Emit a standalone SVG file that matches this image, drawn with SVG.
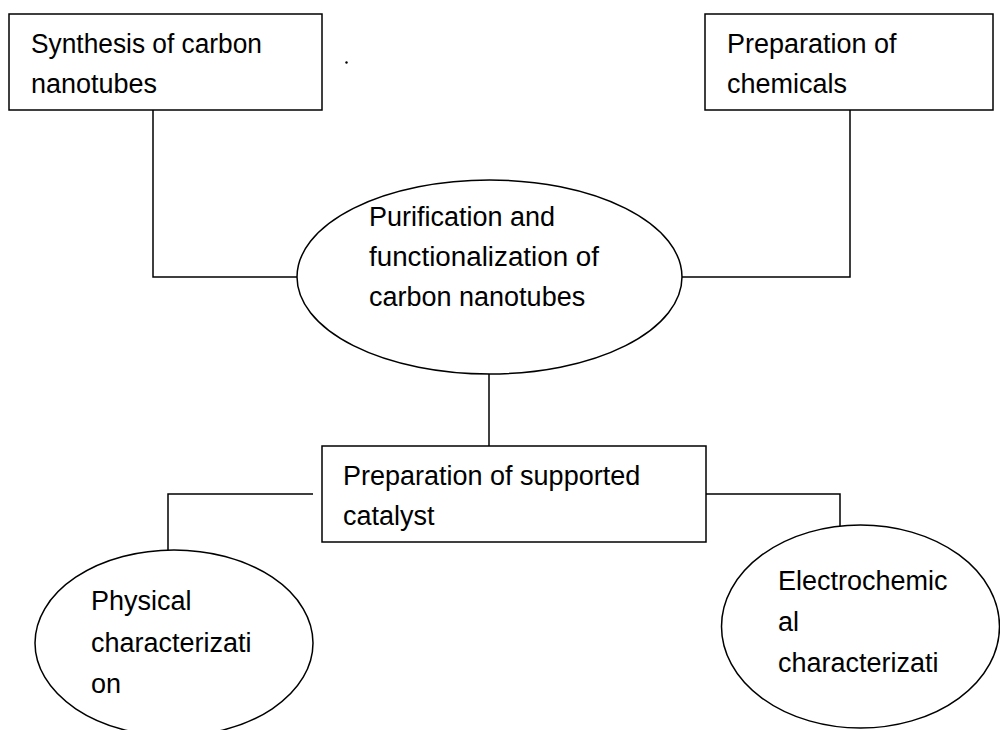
<svg xmlns="http://www.w3.org/2000/svg" width="1000" height="730" viewBox="0 0 1000 730">
<style>
.shape{fill:#fff;stroke:#000;stroke-width:1.5}
.conn{fill:none;stroke:#000;stroke-width:1.5}
text{font-family:"Liberation Sans",Arial,sans-serif;font-size:27px;fill:#000}
</style>
<rect width="1000" height="730" fill="#fff"/>
<g id="connectors">
<polyline class="conn" points="153,110 153,277 298,277"/>
<polyline class="conn" points="850,110 850,277 633,277"/>
<line class="conn" x1="489" y1="374" x2="489" y2="446"/>
<polyline class="conn" points="313,494 168,494 168,550"/>
<polyline class="conn" points="695,494 840,494 840,527"/>
</g>
<g id="synthesis">
<rect class="shape" x="9" y="14" width="313" height="96"/>
<text x="31" y="53" textLength="231" lengthAdjust="spacingAndGlyphs">Synthesis of carbon</text>
<text x="31" y="93">nanotubes</text>
</g>
<g id="chemicals">
<rect class="shape" x="705" y="14" width="288" height="96"/>
<text x="727" y="53">Preparation of</text>
<text x="727" y="93">chemicals</text>
</g>
<g id="purification">
<ellipse class="shape" cx="489.5" cy="277" rx="192.5" ry="97"/>
<text x="369" y="226">Purification and</text>
<text x="369" y="266" textLength="230" lengthAdjust="spacingAndGlyphs">functionalization of</text>
<text x="369" y="306">carbon nanotubes</text>
</g>
<g id="catalyst">
<rect class="shape" x="322" y="446" width="384" height="96"/>
<text x="343" y="485">Preparation of supported</text>
<text x="343" y="525">catalyst</text>
</g>
<g id="physical">
<ellipse class="shape" cx="174" cy="643" rx="139" ry="93"/>
<text x="91" y="610">Physical</text>
<text x="91" y="652">characterizati</text>
<text x="91" y="693">on</text>
</g>
<g id="electrochemical">
<ellipse class="shape" cx="860.5" cy="626.5" rx="139" ry="101.5"/>
<text x="778" y="590">Electrochemic</text>
<text x="778" y="631">al</text>
<text x="778" y="672">characterizati</text>
</g>
<circle cx="346.5" cy="62.5" r="1.2" fill="#000"/>
</svg>
